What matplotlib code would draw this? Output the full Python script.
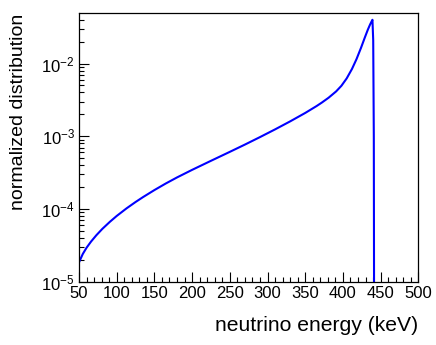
import matplotlib
matplotlib.use("Agg")
import matplotlib.pyplot as plt
from matplotlib.ticker import LogLocator, MultipleLocator, FixedLocator

plt.rcParams['font.family'] = ['Liberation Sans', 'DejaVu Sans']
plt.rcParams['mathtext.fontset'] = 'custom'
plt.rcParams['mathtext.rm'] = 'Liberation Sans'

# spectrum (energy in keV, normalized value)
energy = [50, 55, 60, 66, 73, 81, 91, 100, 113, 125, 135, 150, 165, 180,
          200, 225, 250, 270, 290, 310, 330, 350, 365, 372, 381, 391, 398,
          405, 412, 418, 424, 429, 433, 436, 438, 439.2, 440.2, 441.0, 441.6]
dist = [1.845e-5, 2.404e-5, 2.931e-5, 3.565e-5, 4.355e-5, 5.333e-5,
        6.668e-5, 8.017e-5, 1.019e-4, 1.247e-4, 1.459e-4, 1.820e-4,
        2.239e-4, 2.716e-4, 3.451e-4, 4.597e-4, 6.104e-4, 7.683e-4,
        9.739e-4, 1.243e-3, 1.602e-3, 2.092e-3, 2.600e-3, 2.904e-3,
        3.388e-3, 4.140e-3, 4.943e-3, 6.245e-3, 8.414e-3, 1.148e-2,
        1.644e-2, 2.270e-2, 2.911e-2, 3.436e-2, 3.784e-2, 4.000e-2,
        2.089e-2, 1e-3, 1e-7]

xticks = [50, 100, 150, 200, 250, 300, 350, 400, 450, 500]

fig = plt.figure(figsize=(4.36, 3.45), dpi=100)
ax = fig.add_axes([0.1812, 0.1835, 0.9594 - 0.1812, 0.9614 - 0.1835])

ax.plot(energy, dist, color='#0000ff', lw=1.5)

ax.set_yscale('log')
ax.set_xlim(50, 500)
ax.set_ylim(1e-5, 0.0491)

ax.xaxis.set_major_locator(FixedLocator(xticks))
ax.xaxis.set_minor_locator(MultipleLocator(10))
ax.yaxis.set_major_locator(LogLocator(base=10, numticks=10))
ax.yaxis.set_minor_locator(LogLocator(base=10, subs=range(2, 10), numticks=10))

ax.tick_params(which='both', direction='in', top=False, right=False,
               labelsize=12, width=0.8)
ax.tick_params(which='major', length=7, pad=3)
ax.tick_params(which='minor', length=3.5)
for s in ax.spines.values():
    s.set_linewidth(0.9)

ax.set_xlabel('neutrino energy (keV)', fontsize=15.2, loc='right', labelpad=11)
ax.set_ylabel('normalized distribution', fontsize=14, loc='top', labelpad=10)

plt.savefig('out.png', dpi=100)
